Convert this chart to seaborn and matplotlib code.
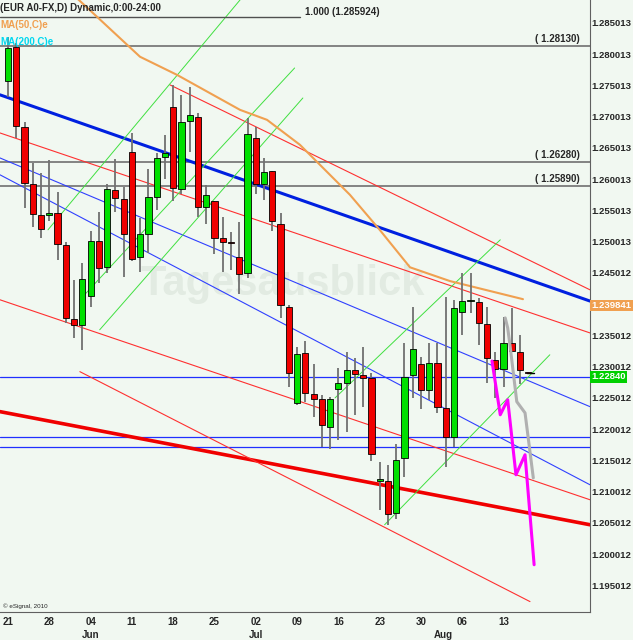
import matplotlib
matplotlib.use("Agg")
import matplotlib.pyplot as plt
import seaborn as sns
import numpy as np
import pandas as pd

opens = [1.2757,1.2812,1.2684,1.2592,1.2543,1.2543,1.2546,1.2495,1.2376,1.2367,
         1.2413,1.2501,1.2460,1.2583,1.2568,1.2644,1.2476,1.2512,1.2572,1.2636,
         1.2716,1.2584,1.2693,1.2700,1.2556,1.2565,1.2506,1.2500,1.2476,1.2450,
         1.2666,1.2592,1.2613,1.2528,1.2396,1.2242,1.2322,1.2256,1.2248,1.2204,
         1.2264,1.2274,1.2294,1.2287,1.2282,1.2117,1.2117,1.2066,1.2154,1.2287,
         1.2304,1.2262,1.2306,1.2234,1.2188,1.2388,1.2405,1.2403,1.2368,1.2310,
         1.2296,1.2338,1.2324,1.2291]
highs = [1.2828,1.2818,1.2692,1.2626,1.2610,1.2631,1.2580,1.2500,1.2439,1.2466,
         1.2517,1.2548,1.2592,1.2632,1.2588,1.2674,1.2538,1.2616,1.2642,1.2671,
         1.2751,1.2735,1.2748,1.2706,1.2591,1.2565,1.2540,1.2516,1.2532,1.2698,
         1.2684,1.2634,1.2613,1.2546,1.2399,1.2332,1.2341,1.2304,1.2254,1.2252,
         1.2298,1.2324,1.2314,1.2332,1.2290,1.2148,1.2143,1.2176,1.2338,1.2396,
         1.2316,1.2338,1.2338,1.2412,1.2407,1.2450,1.2450,1.2410,1.2396,1.2324,
         1.2380,1.2394,1.2351,1.2292]
lows = [1.2732,1.2666,1.2554,1.2524,1.2506,1.2533,1.2471,1.2370,1.2346,1.2327,
        1.2396,1.2434,1.2450,1.2548,1.2444,1.2469,1.2452,1.2482,1.2551,1.2600,
        1.2565,1.2576,1.2644,1.2540,1.2528,1.2480,1.2452,1.2455,1.2416,1.2442,
        1.2576,1.2567,1.2517,1.2378,1.2268,1.2239,1.2244,1.2220,1.2172,1.2168,
        1.2183,1.2196,1.2223,1.2236,1.2149,1.2071,1.2047,1.2056,1.2124,1.2250,
        1.2233,1.2247,1.2226,1.2140,1.2172,1.2351,1.2386,1.2335,1.2274,1.2250,
        1.2268,1.2325,1.2272,1.2290]
closes = [1.2810,1.2685,1.2594,1.2544,1.2520,1.2546,1.2496,1.2378,1.2367,1.2440,
          1.2501,1.2458,1.2584,1.2570,1.2512,1.2472,1.2512,1.2572,1.2634,1.2642,
          1.2586,1.2692,1.2703,1.2556,1.2575,1.2506,1.2500,1.2498,1.2448,1.2672,
          1.2592,1.2612,1.2533,1.2399,1.2290,1.2320,1.2258,1.2248,1.2206,1.2248,
          1.2274,1.2294,1.2288,1.2282,1.2160,1.2120,1.2064,1.2151,1.2284,1.2328,
          1.2262,1.2306,1.2236,1.2188,1.2394,1.2405,1.2405,1.2370,1.2314,1.2296,
          1.2338,1.2325,1.2294,1.2290]

ma50_x = [7.5,10.77,15.98,20.46,28.09,31.36,35.35,41.4,45.0,48.67,53.5,62.35]
ma50_y = [1.2900,1.2860,1.2796,1.2767,1.2711,1.2695,1.2655,1.2575,1.2519,1.2459,1.2437,1.2408]
proj_gray_x = [60.2,60.5,60.8,61.6,62.6,63.6]
proj_gray_y = [1.2378,1.2362,1.2332,1.2244,1.2226,1.2122]
proj_mag_x = [58.6,59.6,60.5,61.5,62.6,63.7]
proj_mag_y = [1.2309,1.2223,1.2247,1.2127,1.2159,1.1983]

# trendlines (x0, y0, x1, y1, color, width)
trend_lines = [
    (-0.97,1.2735,70.46,1.2405,'#0020e0',2.2),
    (-0.97,1.2228,70.46,1.2047,'#f00000',2.6),
    (-0.97,1.2634,70.46,1.2236,'#3040ff',0.8),
    (-0.97,1.2607,70.46,1.2111,'#3040ff',0.8),
    (19.6,1.2751,70.46,1.2423,'#ff3030',0.8),
    (-0.97,1.2674,70.46,1.2354,'#ff3030',0.8),
    (-0.97,1.2407,70.46,1.2087,'#ff3030',0.8),
    (8.7,1.2292,63.2,1.1924,'#ff3030',0.8),
    (4.84,1.2519,28.1,1.2887,'#40e040',0.7),
    (8.7,1.2407,34.7,1.2778,'#40e040',0.7),
    (11.1,1.2359,35.7,1.2730,'#40e040',0.7),
    (39.6,1.2250,59.6,1.2503,'#40e040',0.7),
    (45.6,1.2047,65.6,1.2319,'#40e040',0.7),
]
h_blue = [1.2284,1.2188,1.2172]
h_gray = [1.2813,1.2628,1.2589]
h_gray_labels = ['( 1.28130)','( 1.26280)','( 1.25890)']
y_ticks = [1.285013,1.280013,1.275013,1.270013,1.265013,1.260013,1.255013,1.250013,
           1.245012,1.235012,1.230012,1.225012,1.220012,1.215012,1.210012,1.205012,
           1.200012,1.195012]
x_tick_pos = [0,5,10,15,20,25,30,35,40,45,50,55,60]
x_tick_labels = ['21','28','04','11','18','25','02','09','16','23','30','06','13']
months = [(10,'Jun'),(30,'Jul'),(52.7,'Aug')]

sns.set_style("white")
plt.rcParams['font.family'] = ['Liberation Sans', 'DejaVu Sans']
bg = '#f1f8f1'
fig = plt.figure(figsize=(6.33,6.40), dpi=100, facecolor=bg)
ax = fig.add_axes([0,0.044,0.932,0.956])
ax.set_facecolor(bg)
ax.set_xlim(-0.97,70.46)
ax.set_ylim(1.19076,1.28868)

for v,lab in zip(h_gray,h_gray_labels):
    ax.axhline(v,color='#707070',lw=1.2,zorder=1)
    ax.text(69.2,v+0.0003,lab,ha='right',va='bottom',fontsize=7,fontweight='bold')
ax.plot([-0.97,35.4],[1.2859,1.2859],color='#505050',lw=1)
ax.text(35.9,1.2859,'1.000 (1.285924)',fontsize=7,fontweight='bold',va='bottom')
for v in h_blue:
    ax.axhline(v,color='#2030ff',lw=0.9,zorder=1)
for x0,y0,x1,y1,c,w in trend_lines:
    ax.plot([x0,x1],[y0,y1],color=c,lw=w,zorder=1)

sns.lineplot(x=ma50_x,y=ma50_y,color='#f0a050',lw=1.5,ax=ax,sort=False,zorder=2)
sns.lineplot(x=proj_gray_x,y=proj_gray_y,color='#b0b0b0',lw=2.2,ax=ax,sort=False,zorder=4)
sns.lineplot(x=proj_mag_x,y=proj_mag_y,color='#ff00ff',lw=2.2,ax=ax,sort=False,zorder=4)

idx = np.arange(len(opens))
o,h,l,c = map(np.array,(opens,highs,lows,closes))
ax.vlines(idx,l,h,color='#707070',lw=1.3,zorder=3)
up = c>=o
cols = np.where(up,'#00e000','#f00000')
ax.bar(idx,np.maximum(np.abs(c-o),0.00012),bottom=np.minimum(o,c),width=0.75,
       color=cols,edgecolor='black',lw=0.6,zorder=3)
ax.plot([62.8,63.7],[1.2290,1.2290],color='black',lw=1)

ax.text(16,1.2415,'Tagesausblick',fontsize=30,fontweight='bold',color='#e2ebe2',zorder=0)

ax.yaxis.tick_right()
ax.set_yticks(y_ticks)
ax.set_yticklabels([f'{t:.6f}' for t in y_ticks],fontsize=6.8,fontweight='bold')
ax.tick_params(axis='y',length=0,pad=1)
ax.set_xticks(x_tick_pos)
ax.set_xticklabels(x_tick_labels,fontsize=7,fontweight='bold')
ax.tick_params(axis='x',length=3,pad=0.5)
for x,m in months:
    ax.text(x,-0.029,m,transform=ax.get_xaxis_transform(),ha='center',va='top',
            fontsize=7,fontweight='bold')
for s in ['top','left']:
    ax.spines[s].set_visible(False)
ax.spines['right'].set_color('#606060')
ax.spines['bottom'].set_color('#606060')

ax.text(1.002,1.2398,'1.239841',transform=ax.get_yaxis_transform(),va='center',fontsize=6.8,
        fontweight='bold',color='white',bbox=dict(boxstyle='square,pad=0.15',fc='#f0a050',ec='none'))
ax.text(1.002,1.2284,'1.22840',transform=ax.get_yaxis_transform(),va='center',fontsize=6.8,
        fontweight='bold',color='white',bbox=dict(boxstyle='square,pad=0.15',fc='#00d000',ec='none'))

ax.text(0.0,0.995,'(EUR A0-FX,D) Dynamic,0:00-24:00',transform=ax.transAxes,va='top',fontsize=7,fontweight='bold')
ax.text(0.0,0.967,'MA(50,C)e',transform=ax.transAxes,va='top',fontsize=7,fontweight='bold',color='#f0a050')
ax.text(0.0,0.939,'MA(200,C)e',transform=ax.transAxes,va='top',fontsize=7,fontweight='bold',color='#00d8f0')
ax.text(0.005,0.005,'© eSignal, 2010',transform=ax.transAxes,va='bottom',fontsize=4.5)

fig.savefig('out.png',dpi=100,facecolor=bg)
